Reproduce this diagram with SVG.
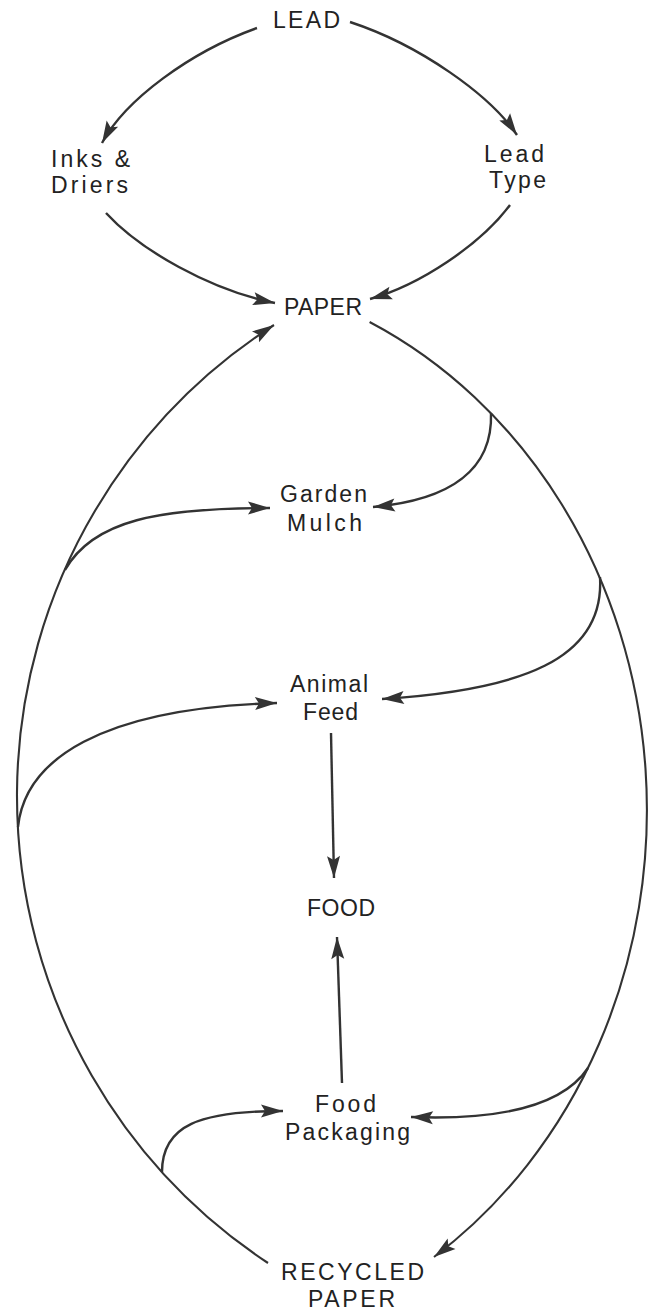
<svg xmlns="http://www.w3.org/2000/svg" width="655" height="1310" viewBox="0 0 655 1310">
<style>
  .lbl { font-family: "Liberation Sans", Arial, sans-serif; font-size: 23px; fill: #222; }
  .arr { fill: none; stroke: #333; stroke-width: 2.4; marker-end: url(#ah); }
  .big { fill: none; stroke: #333; stroke-width: 2.1; marker-end: url(#ah); }
</style>
<defs>
  <marker id="ah" markerUnits="userSpaceOnUse" viewBox="-24 -9 26 18" refX="0" refY="0" markerWidth="26" markerHeight="18" orient="auto">
    <path d="M0,0 L-22,-6.5 L-18,0 L-22,6.5 Z" fill="#333"/>
  </marker>
</defs>
<rect width="655" height="1310" fill="#fff"/>

<g id="connectors">
  <!-- top arrows -->
  <path class="arr" d="M257,28 C190,52 125,100 102,143"/>
  <path class="arr" d="M350,22 C420,45 490,95 517,135"/>
  <path class="arr" d="M106,213 C140,250 210,290 275,303"/>
  <path class="arr" d="M510,205 C480,245 420,285 370,299"/>
  <!-- left big curve: recycled paper up to paper -->
  <path class="big" d="M268,1263 A560,560 0 0 1 274,325"/>
  <!-- right big curve: paper down to recycled paper -->
  <path class="big" d="M369.6,322 A485,540 0 0 1 434,1257"/>
  <!-- branches -->
  <path class="arr" d="M491,413 C493,470 450,500 373,507"/>
  <path class="arr" d="M65,570 C93,520 160,508 270,508"/>
  <path class="arr" d="M600,577 C605,660 520,690 382,699"/>
  <path class="arr" d="M18,827 C25,760 100,708 277,703"/>
  <path class="arr" d="M162,1172 C162,1125 200,1111 283,1111"/>
  <path class="arr" d="M588,1068 C560,1110 490,1120 411,1117"/>
  <!-- vertical arrows -->
  <path class="arr" d="M331,733 L334,878"/>
  <path class="arr" d="M342,1083 L337,937"/>
</g>

<g id="lead"><text class="lbl" x="273" y="28" textLength="67" lengthAdjust="spacing">LEAD</text></g>
<g id="inks-driers">
  <text class="lbl" x="51" y="167" textLength="79" lengthAdjust="spacing">Inks &amp;</text>
  <text class="lbl" x="51" y="193" textLength="77" lengthAdjust="spacing">Driers</text>
</g>
<g id="lead-type">
  <text class="lbl" x="484" y="162" textLength="60" lengthAdjust="spacing">Lead</text>
  <text class="lbl" x="489" y="188" textLength="57" lengthAdjust="spacing">Type</text>
</g>
<g id="paper"><text class="lbl" x="284" y="315" textLength="78" lengthAdjust="spacing">PAPER</text></g>
<g id="garden-mulch">
  <text class="lbl" x="280" y="502" textLength="87" lengthAdjust="spacing">Garden</text>
  <text class="lbl" x="287" y="531" textLength="75" lengthAdjust="spacing">Mulch</text>
</g>
<g id="animal-feed">
  <text class="lbl" x="290" y="692" textLength="78" lengthAdjust="spacing">Animal</text>
  <text class="lbl" x="303" y="720" textLength="55" lengthAdjust="spacing">Feed</text>
</g>
<g id="food"><text class="lbl" x="307" y="916" textLength="68" lengthAdjust="spacing">FOOD</text></g>
<g id="food-packaging">
  <text class="lbl" x="315" y="1112" textLength="61" lengthAdjust="spacing">Food</text>
  <text class="lbl" x="285" y="1140" textLength="125" lengthAdjust="spacing">Packaging</text>
</g>
<g id="recycled-paper">
  <text class="lbl" x="281" y="1280" textLength="143" lengthAdjust="spacing">RECYCLED</text>
  <text class="lbl" x="308" y="1307" textLength="87" lengthAdjust="spacing">PAPER</text>
</g>
</svg>
